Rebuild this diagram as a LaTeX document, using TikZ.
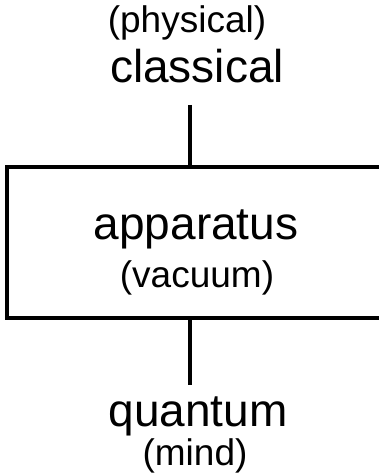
\documentclass[tikz,border=0pt]{standalone}
\usepackage{fontspec}
\setmainfont{Liberation Sans}
\begin{document}
\begin{tikzpicture}[x=1pt, y=1pt, line width=3.5pt,
		big/.style={anchor=base, inner sep=0pt, font=\fontsize{46}{50}\selectfont},
		small/.style={anchor=base, inner sep=0pt, font=\fontsize{37}{40}\selectfont},
		frame/.style={draw, minimum width=378pt, minimum height=151pt, inner sep=0pt}]
	\useasboundingbox (0,0) rectangle (379,473);
	% the box runs off the right edge
	\node[frame] (app) at (196,230.5) {};
	\node[small] (phys) at (187,440) {(physical)};
	\node[big] (classical) at (197,390) {classical};
	\node[big] (apparatus) at (196,233) {apparatus};
	\node[small] (vacuum) at (197,185) {(vacuum)};
	\node[big] (quantum) at (198,46) {quantum};
	\node[small] (mind) at (195,7) {(mind)};
	\coordinate (top) at (190,368);
	\coordinate (bot) at (190,88);
	\draw (top) -- (top |- app.north);
	\draw (bot) -- (bot |- app.south);
\end{tikzpicture}
\end{document}
